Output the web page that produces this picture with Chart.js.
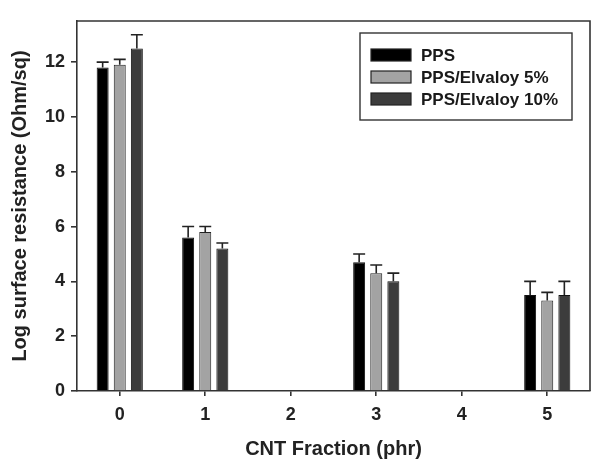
<!DOCTYPE html>
<html>
<head>
<meta charset="utf-8">
<script src="https://cdn.jsdelivr.net/npm/chart.js@4/dist/chart.umd.min.js"></script>
<style>
  html, body { margin: 0; padding: 0; background: #fff; }
  #wrap { width: 598px; height: 459px; }
</style>
</head>
<body>
<div id="wrap"><canvas id="c" width="598" height="459"></canvas></div>
<script>
const categories = ['0', '1', '2', '3', '4', '5'];
const seriesLabels = ['PPS', 'PPS/Elvaloy 5%', 'PPS/Elvaloy 10%'];
const ppsValues    = [11.8, 5.6, null, 4.7, null, 3.5];
const pps5Values   = [11.9, 5.8, null, 4.3, null, 3.3];
const pps10Values  = [12.5, 5.2, null, 4.0, null, 3.5];
const ppsErrors    = [0.2, 0.4, null, 0.3, null, 0.5];
const pps5Errors   = [0.2, 0.2, null, 0.3, null, 0.3];
const pps10Errors  = [0.5, 0.2, null, 0.3, null, 0.5];
const yTickValues  = [0, 2, 4, 6, 8, 10, 12];

const FONT = "'Liberation Sans', Arial, sans-serif";
const AXIS = '#333333';

const errorBars = {
  id: 'errorBars',
  afterDatasetsDraw(chart) {
    const ctx = chart.ctx;
    const y = chart.scales.y;
    chart.data.datasets.forEach((ds, i) => {
      const meta = chart.getDatasetMeta(i);
      meta.data.forEach((el, j) => {
        const v = ds.data[j];
        const e = ds.errors[j];
        if (v == null || e == null) return;
        const yTop = y.getPixelForValue(v + e);
        const yVal = y.getPixelForValue(v);
        const hw = el.width / 2;
        ctx.save();
        ctx.strokeStyle = '#222';
        ctx.lineWidth = 1.6;
        ctx.beginPath();
        ctx.moveTo(el.x, yVal);
        ctx.lineTo(el.x, yTop);
        ctx.moveTo(el.x - hw, yTop);
        ctx.lineTo(el.x + hw, yTop);
        ctx.stroke();
        ctx.restore();
      });
    });
  }
};

const frameAndLegend = {
  id: 'frameAndLegend',
  afterDraw(chart) {
    const ctx = chart.ctx;
    const a = chart.chartArea;
    ctx.save();
    ctx.strokeStyle = AXIS;
    ctx.lineWidth = 1.6;
    ctx.beginPath();
    ctx.moveTo(a.left, a.top);
    ctx.lineTo(a.right, a.top);
    ctx.lineTo(a.right, a.bottom);
    ctx.stroke();
    // legend box
    const bx = 360, by = 33, bw = 212, bh = 87;
    ctx.lineWidth = 1.4;
    ctx.strokeRect(bx, by, bw, bh);
    ctx.font = 'bold 17px ' + FONT;
    ctx.textBaseline = 'middle';
    ctx.textAlign = 'left';
    chart.data.datasets.forEach((ds, i) => {
      const cy = 55 + i * 22;
      ctx.fillStyle = ds.backgroundColor;
      ctx.fillRect(371, cy - 6, 40, 12);
      ctx.strokeStyle = '#222';
      ctx.lineWidth = 1.2;
      ctx.strokeRect(371, cy - 6, 40, 12);
      ctx.fillStyle = '#1a1a1a';
      ctx.fillText(ds.label, 421, cy + 1);
    });
    ctx.restore();
  }
};

new Chart(document.getElementById('c'), {
  type: 'bar',
  data: {
    labels: categories,
    datasets: [
      { label: seriesLabels[0], data: ppsValues, errors: ppsErrors, backgroundColor: '#000000', borderColor: '#111111', borderWidth: 1 },
      { label: seriesLabels[1], data: pps5Values, errors: pps5Errors, backgroundColor: '#a3a3a3', borderColor: '#222222', borderWidth: 1 },
      { label: seriesLabels[2], data: pps10Values, errors: pps10Errors, backgroundColor: '#3c3c3c', borderColor: '#111111', borderWidth: 1 }
    ]
  },
  options: {
    responsive: false,
    animation: false,
    devicePixelRatio: 1,
    categoryPercentage: 0.6,
    barPercentage: 0.7,
    layout: { padding: { top: 21, right: 8, left: 0, bottom: 0 } },
    plugins: { legend: { display: false }, tooltip: { enabled: false } },
    scales: {
      x: {
        offset: true,
        grid: { display: true, drawOnChartArea: false, drawTicks: true, tickLength: 5, offset: false, color: AXIS, lineWidth: 1.6 },
        border: { display: true, color: AXIS, width: 1.6 },
        ticks: { color: '#222', font: { family: FONT, size: 18, weight: 'bold' }, padding: 8, maxRotation: 0 },
        title: { display: true, text: 'CNT Fraction (phr)', color: '#222', font: { family: FONT, size: 20, weight: 'bold', lineHeight: 1.0 }, padding: { top: 0, bottom: 0 } },
        afterFit(s) { s.height = 68; }
      },
      y: {
        min: 0,
        max: 13.5,
        grid: { display: true, drawOnChartArea: false, drawTicks: true, tickLength: 6, color: AXIS, lineWidth: 1.6 },
        border: { display: true, color: AXIS, width: 1.6 },
        ticks: { color: '#222', font: { family: FONT, size: 18, weight: 'bold' }, padding: 6 },
        afterBuildTicks(s) { s.ticks = yTickValues.map(v => ({ value: v })); },
        title: { display: true, text: 'Log surface resistance (Ohm/sq)', color: '#222', font: { family: FONT, size: 20, weight: 'bold', lineHeight: 1.2 }, padding: { top: 8, bottom: 0 } },
        afterFit(s) { s.width = 77; }
      }
    }
  },
  plugins: [errorBars, frameAndLegend]
});
</script>
</body>
</html>
